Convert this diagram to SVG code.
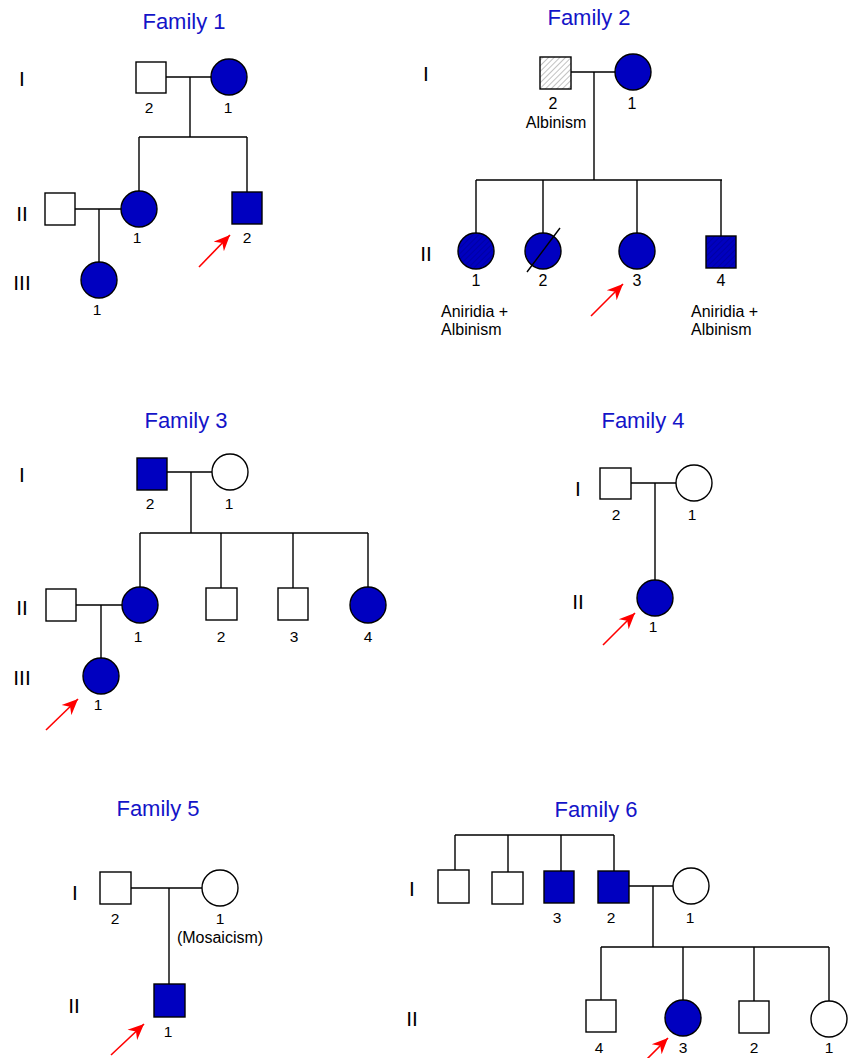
<svg xmlns="http://www.w3.org/2000/svg" width="850" height="1058" viewBox="0 0 850 1058">
<style>
.s{fill:#fff;stroke:#000;stroke-width:1.4}
.a{fill:#0000C0;stroke:#000;stroke-width:1.4}
.hg{fill:url(#hatchGray);stroke:#000;stroke-width:1.4}
.hb{fill:url(#hatchBlue);stroke:#000;stroke-width:1.4}
.c{fill:none;stroke:#000;stroke-width:1.4}
.t{font-family:"Liberation Sans",Arial,sans-serif;font-size:22px;fill:#1414C8;text-anchor:middle}
.g{font-family:"Liberation Sans",Arial,sans-serif;font-size:21px;fill:#000;text-anchor:middle}
.n{font-family:"Liberation Sans",Arial,sans-serif;font-size:15.5px;fill:#000;text-anchor:middle}
.n2{font-family:"Liberation Sans",Arial,sans-serif;font-size:16px;fill:#000;text-anchor:middle}
.n2l{font-family:"Liberation Sans",Arial,sans-serif;font-size:16px;fill:#000}
.ar{stroke:#F00;stroke-width:1.6;fill:none;marker-end:url(#ah)}
</style>
<defs>
<pattern id="hatchGray" patternUnits="userSpaceOnUse" width="4" height="4" patternTransform="rotate(45)">
<rect width="4" height="4" fill="#fff"/>
<line x1="0" y1="0" x2="0" y2="4" stroke="#999" stroke-width="1.2"/>
</pattern>
<pattern id="hatchBlue" patternUnits="userSpaceOnUse" width="4" height="4" patternTransform="rotate(45)">
<rect width="4" height="4" fill="#0000C0"/>
<line x1="0" y1="0" x2="0" y2="4" stroke="#000088" stroke-width="1"/>
</pattern>
<marker id="ah" markerUnits="userSpaceOnUse" markerWidth="20" markerHeight="16" viewBox="-16 -8 20 16" refX="0" refY="0" orient="auto">
<path d="M0,0 L-16,-7 L-11,0 L-16,7 Z" fill="#F00"/>
</marker>
</defs>

<!-- Titles and generation labels -->
<g id="labels">
<text class="t" x="184" y="29">Family 1</text>
<text class="t" x="589" y="25">Family 2</text>
<text class="t" x="186" y="428">Family 3</text>
<text class="t" x="643" y="428">Family 4</text>
<text class="t" x="158" y="816">Family 5</text>
<text class="t" x="596" y="817">Family 6</text>
<text class="g" x="22" y="86">I</text>
<text class="g" x="22" y="221">II</text>
<text class="g" x="22" y="290">III</text>
<text class="g" x="426" y="81">I</text>
<text class="g" x="426" y="261">II</text>
<text class="g" x="22" y="482">I</text>
<text class="g" x="22" y="615">II</text>
<text class="g" x="22" y="685">III</text>
<text class="g" x="578" y="496">I</text>
<text class="g" x="578" y="609">II</text>
<text class="g" x="75" y="900">I</text>
<text class="g" x="74" y="1013">II</text>
<text class="g" x="412" y="896">I</text>
<text class="g" x="412" y="1026">II</text>
</g>

<!-- Connectors -->
<g id="connectors">
<!-- Family 1 -->
<path class="c" d="M166,77 H211 M190,77 V137 M139,137 H247 M139,137 V191 M247,137 V192"/>
<path class="c" d="M75,209 H121 M99,209 V262"/>
<!-- Family 2 -->
<path class="c" d="M571,72 H615 M594,72 V180 M476,180 H722 M476,180 V233 M543,180 V233 M637,180 V233 M721,180 V236"/>
<!-- Family 3 -->
<path class="c" d="M167,472 H212 M191,472 V533 M140,533 H368 M140,533 V587 M221,533 V588 M293,533 V588 M368,533 V587"/>
<path class="c" d="M76,605 H122 M101,605 V658"/>
<!-- Family 4 -->
<path class="c" d="M631,483 H676 M655,483 V580"/>
<!-- Family 5 -->
<path class="c" d="M131,888 H202 M169,888 V984"/>
<!-- Family 6 -->
<path class="c" d="M455,835 H614 M455,835 V870 M508,835 V872 M561,835 V871 M614,835 V871"/>
<path class="c" d="M629,886 H673 M653,886 V947 M601,947 H829 M601,947 V1000 M683,947 V1000 M754,947 V1001 M829,947 V1001"/>
<!-- Proband arrows -->
<line class="ar" x1="199" y1="267" x2="230" y2="235"/>
<line class="ar" x1="591" y1="316" x2="623" y2="284"/>
<line class="ar" x1="46" y1="730" x2="78" y2="699"/>
<line class="ar" x1="603" y1="645" x2="635" y2="613"/>
<line class="ar" x1="111" y1="1055" x2="144" y2="1024"/>
<line class="ar" x1="636" y1="1070" x2="668" y2="1038"/>
</g>

<!-- Family 1 -->
<g id="f1-I-2"><rect class="s" x="136" y="62" width="30" height="31"/><text class="n" x="149" y="113">2</text></g>
<g id="f1-I-1"><circle class="a" cx="229" cy="77" r="18"/><text class="n" x="228" y="113">1</text></g>
<g id="f1-II-sp"><rect class="s" x="45" y="193" width="30" height="32"/></g>
<g id="f1-II-1"><circle class="a" cx="139" cy="209" r="18"/><text class="n" x="137" y="243">1</text></g>
<g id="f1-II-2"><rect class="a" x="232" y="192" width="30" height="32"/><text class="n" x="247" y="243">2</text></g>
<g id="f1-III-1"><circle class="a" cx="99" cy="280" r="18"/><text class="n" x="97" y="315">1</text></g>

<!-- Family 2 -->
<g id="f2-I-2"><rect class="hg" x="540" y="57" width="31" height="32"/><text class="n2" x="553" y="109">2</text><text class="n2" x="556" y="128">Albinism</text></g>
<g id="f2-I-1"><circle class="a" cx="633" cy="72" r="18"/><text class="n2" x="632" y="109">1</text></g>
<g id="f2-II-1"><circle class="hb" cx="476" cy="251" r="18"/><text class="n2" x="476" y="286">1</text><text class="n2l" x="441" y="317">Aniridia +</text><text class="n2l" x="441" y="335">Albinism</text></g>
<g id="f2-II-2"><circle class="a" cx="543" cy="251" r="18"/><line class="c" x1="527" y1="272" x2="560" y2="228"/><text class="n2" x="543" y="286">2</text></g>
<g id="f2-II-3"><circle class="a" cx="637" cy="251" r="18"/><text class="n2" x="637" y="286">3</text></g>
<g id="f2-II-4"><rect class="hb" x="706" y="236" width="30" height="32"/><text class="n2" x="721" y="286">4</text><text class="n2l" x="691" y="317">Aniridia +</text><text class="n2l" x="691" y="335">Albinism</text></g>

<!-- Family 3 -->
<g id="f3-I-2"><rect class="a" x="137" y="458" width="30" height="32"/><text class="n" x="150" y="509">2</text></g>
<g id="f3-I-1"><circle class="s" cx="230" cy="472" r="18"/><text class="n" x="229" y="509">1</text></g>
<g id="f3-II-sp"><rect class="s" x="46" y="589" width="30" height="32"/></g>
<g id="f3-II-1"><circle class="a" cx="140" cy="605" r="18"/><text class="n" x="138" y="642">1</text></g>
<g id="f3-II-2"><rect class="s" x="206" y="588" width="31" height="32"/><text class="n" x="221" y="642">2</text></g>
<g id="f3-II-3"><rect class="s" x="278" y="588" width="30" height="32"/><text class="n" x="294" y="642">3</text></g>
<g id="f3-II-4"><circle class="a" cx="368" cy="605" r="18"/><text class="n" x="368" y="642">4</text></g>
<g id="f3-III-1"><circle class="a" cx="101" cy="676" r="18"/><text class="n" x="98" y="710">1</text></g>

<!-- Family 4 -->
<g id="f4-I-2"><rect class="s" x="600" y="468" width="31" height="31"/><text class="n" x="616" y="520">2</text></g>
<g id="f4-I-1"><circle class="s" cx="694" cy="483" r="18"/><text class="n" x="692" y="520">1</text></g>
<g id="f4-II-1"><circle class="a" cx="655" cy="598" r="18"/><text class="n" x="653" y="632">1</text></g>

<!-- Family 5 -->
<g id="f5-I-2"><rect class="s" x="100" y="872" width="31" height="32"/><text class="n" x="115" y="924">2</text></g>
<g id="f5-I-1"><circle class="s" cx="220" cy="888" r="18"/><text class="n" x="220" y="924">1</text><text class="n2" x="220" y="943">(Mosaicism)</text></g>
<g id="f5-II-1"><rect class="a" x="154" y="984" width="31" height="33"/><text class="n" x="168" y="1037">1</text></g>

<!-- Family 6 -->
<g id="f6-I-a"><rect class="s" x="438" y="870" width="31" height="33"/></g>
<g id="f6-I-b"><rect class="s" x="492" y="872" width="31" height="32"/></g>
<g id="f6-I-3"><rect class="a" x="544" y="871" width="30" height="32"/><text class="n" x="557" y="923">3</text></g>
<g id="f6-I-2"><rect class="a" x="598" y="871" width="31" height="32"/><text class="n" x="611" y="923">2</text></g>
<g id="f6-I-1"><circle class="s" cx="691" cy="886" r="18"/><text class="n" x="690" y="923">1</text></g>
<g id="f6-II-4"><rect class="s" x="586" y="1000" width="30" height="32"/><text class="n" x="599" y="1053">4</text></g>
<g id="f6-II-3"><circle class="a" cx="683" cy="1018" r="18"/><text class="n" x="683" y="1053">3</text></g>
<g id="f6-II-2"><rect class="s" x="739" y="1001" width="30" height="32"/><text class="n" x="754" y="1053">2</text></g>
<g id="f6-II-1"><circle class="s" cx="829" cy="1019" r="18"/><text class="n" x="829" y="1053">1</text></g>
</svg>
